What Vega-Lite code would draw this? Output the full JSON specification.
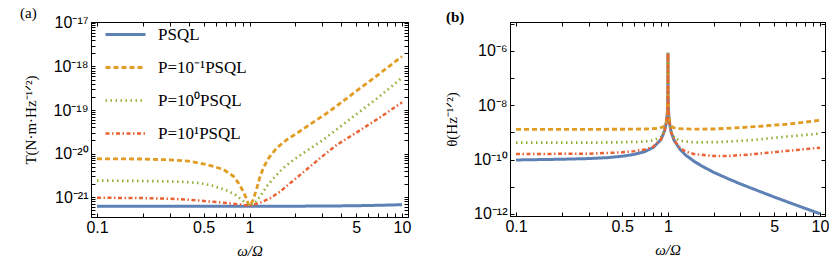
{
  "$schema": "https://vega.github.io/schema/vega-lite/v6.json",
  "padding": {"left": 19, "top": 5, "right": 2, "bottom": 2},
  "spacing": 31,
  "config": {
    "view": {"stroke": "black", "strokeWidth": 1},
    "axis": {"domainColor": "black", "tickColor": "black", "labelFont": "Liberation Sans", "labelFontSize": 16, "labelColor": "black", "titleFont": "Liberation Serif", "titleFontSize": 15, "titleFontWeight": "normal", "titleColor": "black", "grid": false, "labelOverlap": false, "labelBound": false, "labelFlush": false},
    "title": {"font": "Liberation Serif", "fontSize": 15, "fontWeight": "normal", "color": "black"}
  },
  "datasets": {
    "a": [
      {"s": "PSQL", "w": 0.1, "T": 6.2e-22},
      {"s": "PSQL", "w": 0.3, "T": 6.2e-22},
      {"s": "PSQL", "w": 1, "T": 6.2e-22},
      {"s": "PSQL", "w": 2, "T": 6.2e-22},
      {"s": "PSQL", "w": 3, "T": 6.25e-22},
      {"s": "PSQL", "w": 4, "T": 6.3e-22},
      {"s": "PSQL", "w": 5, "T": 6.35e-22},
      {"s": "PSQL", "w": 7, "T": 6.5e-22},
      {"s": "PSQL", "w": 10, "T": 6.7e-22},
      {"s": "P=10⁻¹PSQL", "w": 0.1, "T": 7.6e-21},
      {"s": "P=10⁻¹PSQL", "w": 0.15, "T": 7.55e-21},
      {"s": "P=10⁻¹PSQL", "w": 0.2, "T": 7.5e-21},
      {"s": "P=10⁻¹PSQL", "w": 0.3, "T": 7.2e-21},
      {"s": "P=10⁻¹PSQL", "w": 0.4, "T": 6.7e-21},
      {"s": "P=10⁻¹PSQL", "w": 0.476, "T": 6.0e-21},
      {"s": "P=10⁻¹PSQL", "w": 0.58, "T": 5.1e-21},
      {"s": "P=10⁻¹PSQL", "w": 0.676, "T": 4.3e-21},
      {"s": "P=10⁻¹PSQL", "w": 0.786, "T": 3.0e-21},
      {"s": "P=10⁻¹PSQL", "w": 0.847, "T": 2.1e-21},
      {"s": "P=10⁻¹PSQL", "w": 0.905, "T": 1.4e-21},
      {"s": "P=10⁻¹PSQL", "w": 0.953, "T": 9.5e-22},
      {"s": "P=10⁻¹PSQL", "w": 0.98, "T": 7.0e-22},
      {"s": "P=10⁻¹PSQL", "w": 1.0, "T": 6.3e-22},
      {"s": "P=10⁻¹PSQL", "w": 1.025, "T": 7.0e-22},
      {"s": "P=10⁻¹PSQL", "w": 1.055, "T": 8.7e-22},
      {"s": "P=10⁻¹PSQL", "w": 1.11, "T": 1.48e-21},
      {"s": "P=10⁻¹PSQL", "w": 1.165, "T": 2.75e-21},
      {"s": "P=10⁻¹PSQL", "w": 1.23, "T": 4.65e-21},
      {"s": "P=10⁻¹PSQL", "w": 1.335, "T": 7.9e-21},
      {"s": "P=10⁻¹PSQL", "w": 1.51, "T": 1.35e-20},
      {"s": "P=10⁻¹PSQL", "w": 1.76, "T": 2.1e-20},
      {"s": "P=10⁻¹PSQL", "w": 2.05, "T": 2.95e-20},
      {"s": "P=10⁻¹PSQL", "w": 2.38, "T": 4.2e-20},
      {"s": "P=10⁻¹PSQL", "w": 2.77, "T": 6.0e-20},
      {"s": "P=10⁻¹PSQL", "w": 3.22, "T": 8.5e-20},
      {"s": "P=10⁻¹PSQL", "w": 3.65, "T": 1.17e-19},
      {"s": "P=10⁻¹PSQL", "w": 5, "T": 2.7e-19},
      {"s": "P=10⁻¹PSQL", "w": 7, "T": 6.5e-19},
      {"s": "P=10⁻¹PSQL", "w": 10, "T": 1.7e-18},
      {"s": "P=10⁰PSQL", "w": 0.1, "T": 2.4e-21},
      {"s": "P=10⁰PSQL", "w": 0.2, "T": 2.35e-21},
      {"s": "P=10⁰PSQL", "w": 0.3, "T": 2.3e-21},
      {"s": "P=10⁰PSQL", "w": 0.4, "T": 2.2e-21},
      {"s": "P=10⁰PSQL", "w": 0.476, "T": 2.1e-21},
      {"s": "P=10⁰PSQL", "w": 0.58, "T": 1.82e-21},
      {"s": "P=10⁰PSQL", "w": 0.71, "T": 1.42e-21},
      {"s": "P=10⁰PSQL", "w": 0.81, "T": 1.12e-21},
      {"s": "P=10⁰PSQL", "w": 0.89, "T": 8.7e-22},
      {"s": "P=10⁰PSQL", "w": 0.96, "T": 7.0e-22},
      {"s": "P=10⁰PSQL", "w": 1.0, "T": 6.4e-22},
      {"s": "P=10⁰PSQL", "w": 1.04, "T": 6.8e-22},
      {"s": "P=10⁰PSQL", "w": 1.09, "T": 7.5e-22},
      {"s": "P=10⁰PSQL", "w": 1.178, "T": 1.05e-21},
      {"s": "P=10⁰PSQL", "w": 1.3, "T": 1.8e-21},
      {"s": "P=10⁰PSQL", "w": 1.476, "T": 3.0e-21},
      {"s": "P=10⁰PSQL", "w": 1.67, "T": 4.7e-21},
      {"s": "P=10⁰PSQL", "w": 1.95, "T": 7.2e-21},
      {"s": "P=10⁰PSQL", "w": 2.26, "T": 1.03e-20},
      {"s": "P=10⁰PSQL", "w": 2.63, "T": 1.47e-20},
      {"s": "P=10⁰PSQL", "w": 3.06, "T": 2.1e-20},
      {"s": "P=10⁰PSQL", "w": 3.47, "T": 2.95e-20},
      {"s": "P=10⁰PSQL", "w": 5, "T": 7.9e-20},
      {"s": "P=10⁰PSQL", "w": 7, "T": 1.95e-19},
      {"s": "P=10⁰PSQL", "w": 10, "T": 5.5e-19},
      {"s": "P=10¹PSQL", "w": 0.1, "T": 9.7e-22},
      {"s": "P=10¹PSQL", "w": 0.2, "T": 9.5e-22},
      {"s": "P=10¹PSQL", "w": 0.3, "T": 9.2e-22},
      {"s": "P=10¹PSQL", "w": 0.4, "T": 8.7e-22},
      {"s": "P=10¹PSQL", "w": 0.476, "T": 8.3e-22},
      {"s": "P=10¹PSQL", "w": 0.58, "T": 7.8e-22},
      {"s": "P=10¹PSQL", "w": 0.71, "T": 7.3e-22},
      {"s": "P=10¹PSQL", "w": 0.87, "T": 6.8e-22},
      {"s": "P=10¹PSQL", "w": 1.0, "T": 6.3e-22},
      {"s": "P=10¹PSQL", "w": 1.16, "T": 7.3e-22},
      {"s": "P=10¹PSQL", "w": 1.37, "T": 9.5e-22},
      {"s": "P=10¹PSQL", "w": 1.59, "T": 1.35e-21},
      {"s": "P=10¹PSQL", "w": 1.85, "T": 2.1e-21},
      {"s": "P=10¹PSQL", "w": 2.15, "T": 3.25e-21},
      {"s": "P=10¹PSQL", "w": 2.51, "T": 5.1e-21},
      {"s": "P=10¹PSQL", "w": 2.91, "T": 7.9e-21},
      {"s": "P=10¹PSQL", "w": 3.3, "T": 1.12e-20},
      {"s": "P=10¹PSQL", "w": 3.75, "T": 1.6e-20},
      {"s": "P=10¹PSQL", "w": 5, "T": 3.0e-20},
      {"s": "P=10¹PSQL", "w": 7, "T": 6.4e-20},
      {"s": "P=10¹PSQL", "w": 10, "T": 1.5e-19}
    ],
    "b": [
      {"s": "PSQL", "w": 0.1, "th": 9.7e-11},
      {"s": "PSQL", "w": 0.2, "th": 1.03e-10},
      {"s": "PSQL", "w": 0.3, "th": 1.09e-10},
      {"s": "PSQL", "w": 0.4, "th": 1.18e-10},
      {"s": "PSQL", "w": 0.5, "th": 1.33e-10},
      {"s": "PSQL", "w": 0.6, "th": 1.56e-10},
      {"s": "PSQL", "w": 0.7, "th": 1.95e-10},
      {"s": "PSQL", "w": 0.8, "th": 2.8e-10},
      {"s": "PSQL", "w": 0.9, "th": 5.5e-10},
      {"s": "PSQL", "w": 0.95, "th": 1.15e-9},
      {"s": "PSQL", "w": 0.98, "th": 2.6e-9},
      {"s": "PSQL", "w": 0.99, "th": 5.0e-9},
      {"s": "PSQL", "w": 0.997, "th": 1.7e-8},
      {"s": "PSQL", "w": 0.999, "th": 5.0e-8},
      {"s": "PSQL", "w": 0.9999, "th": 4.4e-7},
      {"s": "PSQL", "w": 1.0, "th": 8.5e-7},
      {"s": "PSQL", "w": 1.0001, "th": 4.4e-7},
      {"s": "PSQL", "w": 1.001, "th": 5.0e-8},
      {"s": "PSQL", "w": 1.003, "th": 1.7e-8},
      {"s": "PSQL", "w": 1.01, "th": 5.0e-9},
      {"s": "PSQL", "w": 1.02, "th": 2.5e-9},
      {"s": "PSQL", "w": 1.05, "th": 1.0e-9},
      {"s": "PSQL", "w": 1.1, "th": 5.0e-10},
      {"s": "PSQL", "w": 1.2, "th": 2.4e-10},
      {"s": "PSQL", "w": 1.3, "th": 1.5e-10},
      {"s": "PSQL", "w": 1.5, "th": 8.3e-11},
      {"s": "PSQL", "w": 1.7, "th": 5.5e-11},
      {"s": "PSQL", "w": 2.0, "th": 3.4e-11},
      {"s": "PSQL", "w": 2.5, "th": 1.95e-11},
      {"s": "PSQL", "w": 3.0, "th": 1.27e-11},
      {"s": "PSQL", "w": 4.0, "th": 6.8e-12},
      {"s": "PSQL", "w": 5.0, "th": 4.2e-12},
      {"s": "PSQL", "w": 7.0, "th": 2.1e-12},
      {"s": "PSQL", "w": 10, "th": 1.02e-12},
      {"s": "P=10⁻¹PSQL", "w": 0.1, "th": 1.3e-9},
      {"s": "P=10⁻¹PSQL", "w": 0.3, "th": 1.3e-9},
      {"s": "P=10⁻¹PSQL", "w": 0.5, "th": 1.31e-9},
      {"s": "P=10⁻¹PSQL", "w": 0.7, "th": 1.34e-9},
      {"s": "P=10⁻¹PSQL", "w": 0.85, "th": 1.4e-9},
      {"s": "P=10⁻¹PSQL", "w": 0.93, "th": 1.6e-9},
      {"s": "P=10⁻¹PSQL", "w": 0.97, "th": 2.1e-9},
      {"s": "P=10⁻¹PSQL", "w": 0.99, "th": 5.2e-9},
      {"s": "P=10⁻¹PSQL", "w": 0.997, "th": 1.7e-8},
      {"s": "P=10⁻¹PSQL", "w": 0.999, "th": 5.0e-8},
      {"s": "P=10⁻¹PSQL", "w": 0.9999, "th": 4.4e-7},
      {"s": "P=10⁻¹PSQL", "w": 1.0, "th": 8.5e-7},
      {"s": "P=10⁻¹PSQL", "w": 1.0001, "th": 4.4e-7},
      {"s": "P=10⁻¹PSQL", "w": 1.001, "th": 5.0e-8},
      {"s": "P=10⁻¹PSQL", "w": 1.003, "th": 1.7e-8},
      {"s": "P=10⁻¹PSQL", "w": 1.01, "th": 5.2e-9},
      {"s": "P=10⁻¹PSQL", "w": 1.03, "th": 2.2e-9},
      {"s": "P=10⁻¹PSQL", "w": 1.07, "th": 1.55e-9},
      {"s": "P=10⁻¹PSQL", "w": 1.15, "th": 1.38e-9},
      {"s": "P=10⁻¹PSQL", "w": 1.5, "th": 1.32e-9},
      {"s": "P=10⁻¹PSQL", "w": 2.0, "th": 1.34e-9},
      {"s": "P=10⁻¹PSQL", "w": 3.0, "th": 1.5e-9},
      {"s": "P=10⁻¹PSQL", "w": 4.0, "th": 1.68e-9},
      {"s": "P=10⁻¹PSQL", "w": 6.0, "th": 2.0e-9},
      {"s": "P=10⁻¹PSQL", "w": 8.0, "th": 2.4e-9},
      {"s": "P=10⁻¹PSQL", "w": 10, "th": 2.8e-9},
      {"s": "P=10⁰PSQL", "w": 0.1, "th": 4.2e-10},
      {"s": "P=10⁰PSQL", "w": 0.3, "th": 4.2e-10},
      {"s": "P=10⁰PSQL", "w": 0.5, "th": 4.35e-10},
      {"s": "P=10⁰PSQL", "w": 0.7, "th": 4.6e-10},
      {"s": "P=10⁰PSQL", "w": 0.8, "th": 5.1e-10},
      {"s": "P=10⁰PSQL", "w": 0.9, "th": 6.8e-10},
      {"s": "P=10⁰PSQL", "w": 0.95, "th": 1.2e-9},
      {"s": "P=10⁰PSQL", "w": 0.98, "th": 2.65e-9},
      {"s": "P=10⁰PSQL", "w": 0.99, "th": 5.0e-9},
      {"s": "P=10⁰PSQL", "w": 0.997, "th": 1.7e-8},
      {"s": "P=10⁰PSQL", "w": 0.999, "th": 5.0e-8},
      {"s": "P=10⁰PSQL", "w": 0.9999, "th": 4.4e-7},
      {"s": "P=10⁰PSQL", "w": 1.0, "th": 8.5e-7},
      {"s": "P=10⁰PSQL", "w": 1.0001, "th": 4.4e-7},
      {"s": "P=10⁰PSQL", "w": 1.001, "th": 5.0e-8},
      {"s": "P=10⁰PSQL", "w": 1.003, "th": 1.7e-8},
      {"s": "P=10⁰PSQL", "w": 1.01, "th": 5.0e-9},
      {"s": "P=10⁰PSQL", "w": 1.02, "th": 2.55e-9},
      {"s": "P=10⁰PSQL", "w": 1.05, "th": 1.08e-9},
      {"s": "P=10⁰PSQL", "w": 1.1, "th": 6.4e-10},
      {"s": "P=10⁰PSQL", "w": 1.2, "th": 4.9e-10},
      {"s": "P=10⁰PSQL", "w": 1.5, "th": 4.3e-10},
      {"s": "P=10⁰PSQL", "w": 2.13, "th": 4.4e-10},
      {"s": "P=10⁰PSQL", "w": 3.56, "th": 5.2e-10},
      {"s": "P=10⁰PSQL", "w": 5.88, "th": 6.9e-10},
      {"s": "P=10⁰PSQL", "w": 10, "th": 9.1e-10},
      {"s": "P=10¹PSQL", "w": 0.1, "th": 1.6e-10},
      {"s": "P=10¹PSQL", "w": 0.3, "th": 1.65e-10},
      {"s": "P=10¹PSQL", "w": 0.5, "th": 1.85e-10},
      {"s": "P=10¹PSQL", "w": 0.6, "th": 2.05e-10},
      {"s": "P=10¹PSQL", "w": 0.7, "th": 2.35e-10},
      {"s": "P=10¹PSQL", "w": 0.8, "th": 3.0e-10},
      {"s": "P=10¹PSQL", "w": 0.9, "th": 5.6e-10},
      {"s": "P=10¹PSQL", "w": 0.95, "th": 1.15e-9},
      {"s": "P=10¹PSQL", "w": 0.98, "th": 2.6e-9},
      {"s": "P=10¹PSQL", "w": 0.99, "th": 5.0e-9},
      {"s": "P=10¹PSQL", "w": 0.997, "th": 1.7e-8},
      {"s": "P=10¹PSQL", "w": 0.999, "th": 5.0e-8},
      {"s": "P=10¹PSQL", "w": 0.9999, "th": 4.4e-7},
      {"s": "P=10¹PSQL", "w": 1.0, "th": 8.5e-7},
      {"s": "P=10¹PSQL", "w": 1.0001, "th": 4.4e-7},
      {"s": "P=10¹PSQL", "w": 1.001, "th": 5.0e-8},
      {"s": "P=10¹PSQL", "w": 1.003, "th": 1.7e-8},
      {"s": "P=10¹PSQL", "w": 1.01, "th": 5.0e-9},
      {"s": "P=10¹PSQL", "w": 1.02, "th": 2.5e-9},
      {"s": "P=10¹PSQL", "w": 1.05, "th": 1.02e-9},
      {"s": "P=10¹PSQL", "w": 1.1, "th": 5.1e-10},
      {"s": "P=10¹PSQL", "w": 1.2, "th": 2.7e-10},
      {"s": "P=10¹PSQL", "w": 1.3, "th": 2.0e-10},
      {"s": "P=10¹PSQL", "w": 1.5, "th": 1.58e-10},
      {"s": "P=10¹PSQL", "w": 2.0, "th": 1.36e-10},
      {"s": "P=10¹PSQL", "w": 2.5, "th": 1.36e-10},
      {"s": "P=10¹PSQL", "w": 3.5, "th": 1.55e-10},
      {"s": "P=10¹PSQL", "w": 5.9, "th": 2.05e-10},
      {"s": "P=10¹PSQL", "w": 10, "th": 2.75e-10}
    ]
  },
  "hconcat": [
    {
      "width": 317,
      "height": 195,
      "title": {"text": "(a)", "anchor": "start", "frame": "group", "dx": -71, "offset": -8},
      "data": {"name": "a"},
      "layer": [
        {
          "mark": {"type": "line", "clip": true},
          "encoding": {
            "x": {"field": "w", "type": "quantitative", "title": "ω/Ω",
              "scale": {"type": "log", "domain": [0.0913, 10.95], "nice": false},
              "axis": {"orient": "bottom", "values": [0.1,0.2,0.3,0.4,0.5,0.6,0.7,0.8,0.9,1,2,3,4,5,6,7,8,9,10], "format": "~g", "labelExpr": "datum.value==0.1||datum.value==0.5||datum.value==1||datum.value==5||datum.value==10 ? datum.label : ''", "tickSize": -4, "labelPadding": 6, "titlePadding": 8, "titleFontStyle": "italic"}},
            "y": {"field": "T", "type": "quantitative", "title": "T(N·m·Hz⁻¹ᐟ²)",
              "scale": {"type": "log", "domain": [3.5e-22, 1.05e-17], "nice": false},
              "axis": {"orient": "left", "values": [4e-22,5e-22,6e-22,7e-22,8e-22,9e-22,1e-21,2e-21,3e-21,4e-21,5e-21,6e-21,7e-21,8e-21,9e-21,1e-20,2e-20,3e-20,4e-20,5e-20,6e-20,7e-20,8e-20,9e-20,1e-19,2e-19,3e-19,4e-19,5e-19,6e-19,7e-19,8e-19,9e-19,1e-18,2e-18,3e-18,4e-18,5e-18,6e-18,7e-18,8e-18,9e-18,1e-17],
                "labelExpr": "abs(log(datum.value)/LN10 - round(log(datum.value)/LN10)) > 0.001 ? '' : (round(log(datum.value)/LN10) == -17 ? '10⁻¹⁷' : round(log(datum.value)/LN10) == -18 ? '10⁻¹⁸' : round(log(datum.value)/LN10) == -19 ? '10⁻¹⁹' : round(log(datum.value)/LN10) == -20 ? '10⁻²⁰' : '10⁻²¹')",
                "tickSize": -4, "labelPadding": 7, "titleX": -53}},
            "color": {"field": "s", "type": "nominal",
              "scale": {"domain": ["PSQL", "P=10⁻¹PSQL", "P=10⁰PSQL", "P=10¹PSQL"], "range": ["#5E81B5", "#E19C24", "#8FB032", "#EB6235"]},
              "legend": {"orient": "none", "legendX": 13, "legendY": -9, "title": null, "symbolType": "stroke", "symbolSize": 1600, "symbolStrokeWidth": 2.5, "labelFont": "Liberation Serif", "labelFontSize": 17, "labelColor": "black", "rowPadding": 3, "labelOffset": 11, "padding": 0}},
            "strokeDash": {"field": "s", "type": "nominal",
              "scale": {"domain": ["PSQL", "P=10⁻¹PSQL", "P=10⁰PSQL", "P=10¹PSQL"], "range": [[1, 0], [5, 3], [1.5, 3.5], [4, 2.5, 1.5, 2.5]]},
              "legend": {"orient": "none", "legendX": 13, "legendY": -9, "title": null, "symbolType": "stroke", "symbolSize": 1600, "symbolStrokeWidth": 2.5, "labelFont": "Liberation Serif", "labelFontSize": 17, "labelColor": "black", "rowPadding": 3, "labelOffset": 11, "padding": 0}},
            "strokeWidth": {"field": "s", "type": "nominal", "scale": {"domain": ["PSQL", "P=10⁻¹PSQL", "P=10⁰PSQL", "P=10¹PSQL"], "range": [3, 2.5, 2.5, 2.5]}, "legend": null}
          }
        },
        {
          "mark": {"type": "point", "opacity": 0},
          "encoding": {
            "x": {"field": "w", "type": "quantitative", "scale": {"type": "log", "domain": [0.0913, 10.95], "nice": false},
              "axis": {"orient": "top", "title": null, "labels": false, "values": [0.1,0.2,0.3,0.4,0.5,0.6,0.7,0.8,0.9,1,2,3,4,5,6,7,8,9,10], "tickSize": -4}},
            "y": {"field": "T", "type": "quantitative", "scale": {"type": "log", "domain": [3.5e-22, 1.05e-17], "nice": false},
              "axis": {"orient": "right", "title": null, "labels": false, "values": [4e-22,5e-22,6e-22,7e-22,8e-22,9e-22,1e-21,2e-21,3e-21,4e-21,5e-21,6e-21,7e-21,8e-21,9e-21,1e-20,2e-20,3e-20,4e-20,5e-20,6e-20,7e-20,8e-20,9e-20,1e-19,2e-19,3e-19,4e-19,5e-19,6e-19,7e-19,8e-19,9e-19,1e-18,2e-18,3e-18,4e-18,5e-18,6e-18,7e-18,8e-18,9e-18,1e-17], "tickSize": -4}}
          }
        }
      ],
      "resolve": {"axis": {"x": "independent", "y": "independent"}}
    },
    {
      "width": 315,
      "height": 194,
      "title": {"text": "(b)", "anchor": "start", "frame": "group", "dx": -64, "offset": -9, "fontWeight": "bold"},
      "data": {"name": "b"},
      "layer": [
        {
          "mark": {"type": "line", "clip": true},
          "encoding": {
            "x": {"field": "w", "type": "quantitative", "title": "ω/Ω",
              "scale": {"type": "log", "domain": [0.0913, 10.8], "nice": false},
              "axis": {"orient": "bottom", "values": [0.1,0.2,0.3,0.4,0.5,0.6,0.7,0.8,0.9,1,2,3,4,5,6,7,8,9,10], "format": "~g", "labelExpr": "datum.value==0.1||datum.value==0.5||datum.value==1||datum.value==5||datum.value==10 ? datum.label : ''", "tickSize": -4, "labelPadding": 6, "titlePadding": 8, "titleFontStyle": "italic"}},
            "y": {"field": "th", "type": "quantitative", "title": "θ(Hz⁻¹ᐟ²)",
              "scale": {"type": "log", "domain": [8.4e-13, 1.16e-5], "nice": false},
              "axis": {"orient": "left", "values": [1e-12,1e-11,1e-10,1e-9,1e-8,1e-7,1e-6,1e-5],
                "labelExpr": "round(log(datum.value)/LN10) == -6 ? '10⁻⁶' : round(log(datum.value)/LN10) == -8 ? '10⁻⁸' : round(log(datum.value)/LN10) == -10 ? '10⁻¹⁰' : round(log(datum.value)/LN10) == -12 ? '10⁻¹²' : ''",
                "tickSize": -4, "labelPadding": 7, "titleX": -51}},
            "color": {"field": "s", "type": "nominal",
              "scale": {"domain": ["PSQL", "P=10⁻¹PSQL", "P=10⁰PSQL", "P=10¹PSQL"], "range": ["#5E81B5", "#E19C24", "#8FB032", "#EB6235"]},
              "legend": null},
            "strokeDash": {"field": "s", "type": "nominal",
              "scale": {"domain": ["PSQL", "P=10⁻¹PSQL", "P=10⁰PSQL", "P=10¹PSQL"], "range": [[1, 0], [5, 3], [1.5, 3.5], [4, 2.5, 1.5, 2.5]]},
              "legend": null},
            "strokeWidth": {"field": "s", "type": "nominal", "scale": {"domain": ["PSQL", "P=10⁻¹PSQL", "P=10⁰PSQL", "P=10¹PSQL"], "range": [3, 2.5, 2.5, 2.5]}, "legend": null}
          }
        },
        {
          "mark": {"type": "point", "opacity": 0},
          "encoding": {
            "x": {"field": "w", "type": "quantitative", "scale": {"type": "log", "domain": [0.0913, 10.8], "nice": false},
              "axis": {"orient": "top", "title": null, "labels": false, "values": [0.1,0.2,0.3,0.4,0.5,0.6,0.7,0.8,0.9,1,2,3,4,5,6,7,8,9,10], "tickSize": -4}},
            "y": {"field": "th", "type": "quantitative", "scale": {"type": "log", "domain": [8.4e-13, 1.16e-5], "nice": false},
              "axis": {"orient": "right", "title": null, "labels": false, "values": [1e-12,1e-11,1e-10,1e-9,1e-8,1e-7,1e-6,1e-5], "tickSize": -4}}
          }
        }
      ],
      "resolve": {"axis": {"x": "independent", "y": "independent"}}
    }
  ],
  "resolve": {"scale": {"color": "independent", "strokeDash": "independent", "strokeWidth": "independent"}, "legend": {"color": "independent", "strokeDash": "independent", "strokeWidth": "independent"}}
}
